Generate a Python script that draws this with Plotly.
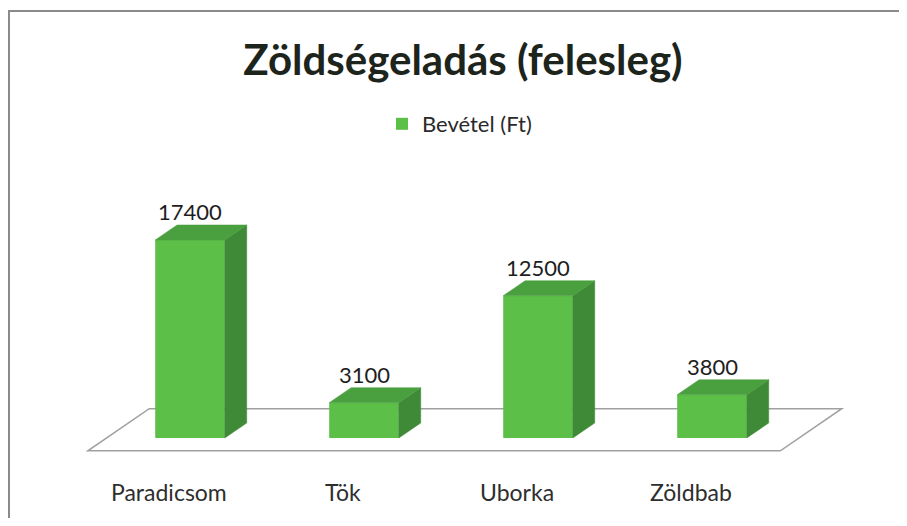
import plotly.graph_objects as go

# ---- data ----
categories = ["Paradicsom", "Tök", "Uborka", "Zöldbab"]
revenue = [17400, 3100, 12500, 3800]
series_name = "Bevétel (Ft)"
title_text = "Zöldségeladás (felesleg)"

# ---- styling / geometry constants ----
OFF = 8                      # page body margin
W, H = 907 - 2 * OFF, 526 - 2 * OFF
FRONT = "#5cbf48"
SIDE = "#3f8a37"
TOP = "#4a9f3f"
BAR_W = 0.4
DX = 0.126      # depth offset in category units
DY = 1320       # depth offset in value units
FONT = "Lato"

# axis ranges chosen so that 1 category = 174 px, 17400 = 198 px
px_per_cat = 174.0
px_per_val = 198.0 / 17400
x0_px, y0_px = 190.0 - OFF, 438.0 - OFF
xr = [-x0_px / px_per_cat, (W - x0_px) / px_per_cat]
yr = [(y0_px - H) / px_per_val, y0_px / px_per_val]

xs = list(range(len(categories)))
fig = go.Figure()

# front faces
fig.add_trace(go.Bar(x=xs, y=revenue, width=BAR_W, marker=dict(color=FRONT, line=dict(width=0)),
                     name=series_name, showlegend=True, hoverinfo="x+y"))

# side and top faces
for x, v in zip(xs, revenue):
    r = x + BAR_W / 2
    l = x - BAR_W / 2
    fig.add_trace(go.Scatter(x=[r, r + DX, r + DX, r, r], y=[0, DY, v + DY, v, 0],
                             mode="lines", fill="toself", fillcolor=SIDE,
                             line=dict(width=0.5, color=SIDE), showlegend=False, hoverinfo="skip"))
    fig.add_trace(go.Scatter(x=[l, l + DX, r + DX, r, l], y=[v, v + DY, v + DY, v, v],
                             mode="lines", fill="toself", fillcolor=TOP,
                             line=dict(width=0.5, color=TOP), showlegend=False, hoverinfo="skip"))

# floor (parallelogram) as a shape below the traces
ff, fb = -0.85, 1.95
xl, xrr = -0.48, len(categories) - 0.5
pts = [(xl + ff * DX, ff * DY), (xrr + ff * DX, ff * DY), (xrr + fb * DX, fb * DY), (xl + fb * DX, fb * DY)]
floor_path = "M " + " L ".join(f"{px},{py}" for px, py in pts) + " Z"

annotations = []
for x, v in zip(xs, revenue):
    annotations.append(dict(x=x, y=v + DY, text=str(v), showarrow=False, yanchor="bottom",
                            yshift=-2, font=dict(family=FONT, size=22, color="#1e1e1e")))
cat_y = (y0_px - (492 - OFF)) / px_per_val
for x, c in zip(xs, categories):
    annotations.append(dict(x=x - 0.12, y=cat_y, text=c, showarrow=False,
                            font=dict(family=FONT, size=23, color="#2e2e2e")))

bx, by = 0.0, 1 - (11 - OFF) / H
shapes = [
    dict(type="path", path=floor_path, xref="x", yref="y", layer="below",
         fillcolor="white", line=dict(color="#a0a0a0", width=1.5)),
    dict(type="line", xref="paper", yref="paper", x0=bx, y0=by, x1=1, y1=by,
         line=dict(color="#8a8a8a", width=2)),
    dict(type="line", xref="paper", yref="paper", x0=bx + 1 / W, y0=by, x1=bx + 1 / W, y1=0,
         line=dict(color="#8a8a8a", width=2)),
]

fig.update_layout(
    width=W, height=H,
    margin=dict(l=0, r=0, t=0, b=0),
    paper_bgcolor="white", plot_bgcolor="white",
    title=dict(text="<b>" + title_text + "</b>", x=(463 - OFF) / W, xanchor="center",
               y=1 - (60 - OFF) / H, yanchor="middle",
               font=dict(family=FONT, size=42, color="#1c241c")),
    xaxis=dict(range=xr, visible=False, fixedrange=True),
    yaxis=dict(range=yr, visible=False, fixedrange=True),
    legend=dict(orientation="h", x=(382 - OFF) / W, xanchor="left", y=1 - (124 - OFF) / H,
                yanchor="middle", font=dict(family=FONT, size=22, color="#2a2a2a"),
                bgcolor="rgba(0,0,0,0)"),
    annotations=annotations,
    shapes=shapes,
    showlegend=True,
)

fig.write_html("out.html")
